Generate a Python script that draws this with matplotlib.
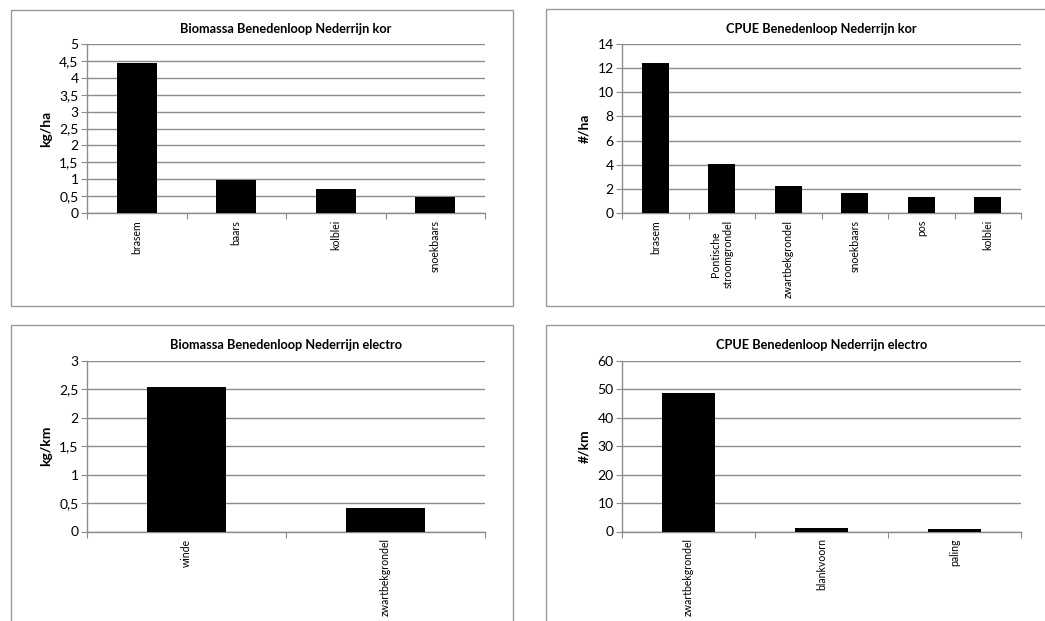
import matplotlib
matplotlib.use("Agg")
import matplotlib.pyplot as plt
from matplotlib.patches import Rectangle
from matplotlib.ticker import FuncFormatter

plt.rcParams['font.family'] = ['Lato', 'DejaVu Sans']

# ---- data ----
bio_kor_cats = ["brasem", "baars", "kolblei", "snoekbaars"]
bio_kor_vals = [4.45, 0.97, 0.71, 0.46]

cpue_kor_cats = ["brasem", "Pontische\nstroomgrondel", "zwartbekgrondel", "snoekbaars", "pos", "kolblei"]
cpue_kor_vals = [12.45, 4.09, 2.26, 1.66, 1.30, 1.30]

bio_el_cats = ["winde", "zwartbekgrondel"]
bio_el_vals = [2.54, 0.42]

cpue_el_cats = ["zwartbekgrondel", "blankvoorn", "paling"]
cpue_el_vals = [48.7, 1.06, 0.8]

W, H = 1045, 621
fig = plt.figure(figsize=(W / 100, H / 100), dpi=100)

def fx(x):
    return x / W

def fy(y):
    return 1 - y / H

# frames (pixel coords: left, top, right, bottom)
frames = [(11, 10, 513, 305.5), (546, 9, 1060, 305.5), (11, 325, 513, 640), (546, 325, 1060, 640)]
for l, t, r, b in frames:
    fig.patches.append(Rectangle((fx(l), fy(b)), fx(r - l), (b - t) / H,
                                 transform=fig.transFigure, fill=False,
                                 edgecolor='#999999', lw=1.0, clip_on=False))

def comma_fmt(v, pos):
    s = ('%g' % v)
    return s.replace('.', ',')

def panel(box, title, cats, vals, ylim, ystep, ylabel, title_y):
    l, t, r, b = box
    ax = fig.add_axes([fx(l), fy(b), fx(r - l), (b - t) / H])
    x = list(range(len(cats)))
    ax.bar(x, vals, width=0.4, color='black', zorder=3)
    ax.set_xlim(-0.5, len(cats) - 0.5)
    ax.set_ylim(0, ylim)
    ticks = [i * ystep for i in range(int(round(ylim / ystep)) + 1)]
    ax.set_yticks(ticks)
    ax.yaxis.set_major_formatter(FuncFormatter(comma_fmt))
    ax.yaxis.grid(True, color='#8c8c8c', lw=1.0, zorder=0)
    ax.set_axisbelow(True)
    for s in ['top', 'right']:
        ax.spines[s].set_visible(False)
    for s in ['left', 'bottom']:
        ax.spines[s].set_color('#8c8c8c')
        ax.spines[s].set_linewidth(1.0)
    ax.tick_params(axis='y', length=4, color='#8c8c8c', labelsize=10, pad=2)
    # category ticks between categories
    ax.set_xticks([i - 0.5 for i in range(len(cats) + 1)])
    ax.set_xticklabels([])
    ax.set_xticks(x, minor=True)
    ax.set_xticklabels(cats, minor=True, rotation=90, fontsize=7.6, va='top', ha='center',
                       multialignment='center')
    ax.tick_params(axis='x', which='major', length=4, color='#8c8c8c', direction='out')
    ax.tick_params(axis='x', which='minor', length=0, pad=5)
    ax.set_ylabel(ylabel, fontsize=10, fontweight='bold', labelpad=5)
    fig.text((fx(l) + fx(r)) / 2, fy(title_y), title, ha='center', va='center',
             fontsize=9.2, fontweight='bold')
    return ax

panel((87, 44, 485, 213), "Biomassa Benedenloop Nederrijn kor", bio_kor_cats, bio_kor_vals,
      5, 0.5, "kg/ha", 29)
panel((622, 44, 1021, 213), "CPUE Benedenloop Nederrijn kor", cpue_kor_cats, cpue_kor_vals,
      14, 2, "#/ha", 29)
panel((87, 361, 485, 531.5), "Biomassa Benedenloop Nederrijn electro", bio_el_cats, bio_el_vals,
      3, 0.5, "kg/km", 345)
panel((622, 361, 1021, 531.5), "CPUE Benedenloop Nederrijn electro", cpue_el_cats, cpue_el_vals,
      60, 10, "#/km", 345)

fig.savefig("out.png", dpi=100, facecolor='white')
